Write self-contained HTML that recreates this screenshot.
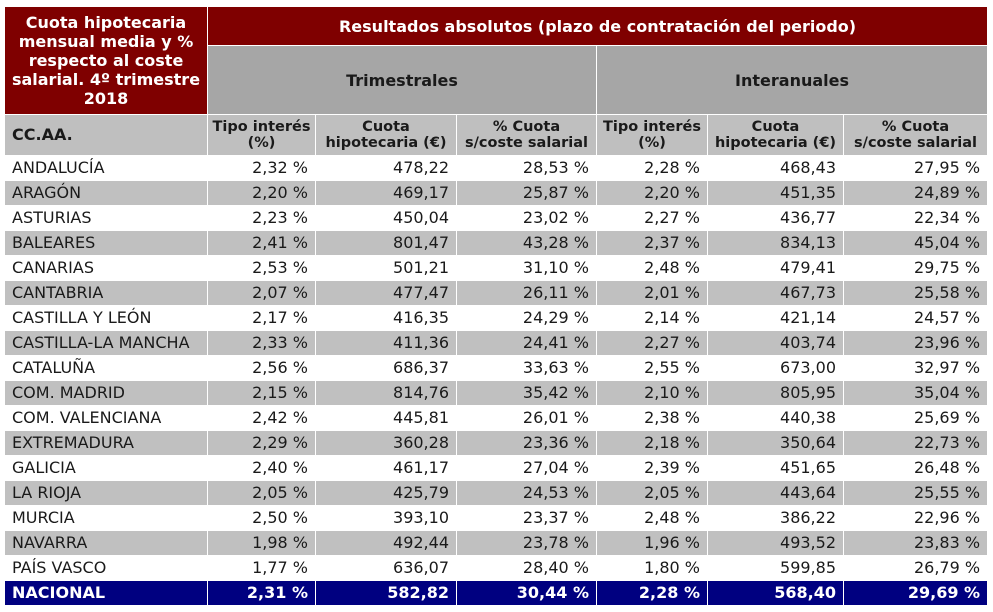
<!DOCTYPE html>
<html><head><meta charset="utf-8"><style>
body{margin:0;background:#fff;width:993px;height:612px;overflow:hidden;position:relative}
table{position:absolute;left:4px;top:6px;border-collapse:collapse;table-layout:fixed;width:983px;font-family:"DejaVu Sans","Liberation Sans",sans-serif;font-size:16px;color:#1a1a1a}
td{border:1px solid #fff;padding:0 7px;white-space:nowrap;overflow:hidden}
.red{background:#7f0000;color:#fff;font-weight:bold;text-align:center}
.g1{background:#a6a6a6;font-weight:bold;text-align:center}
.g2{background:#bfbfbf;font-weight:bold;text-align:center;font-size:14.5px;line-height:16px;padding:0 3px}
tr.d td{height:24px;text-align:right;line-height:24px}
tr.d td:first-child{text-align:left}
tr.alt td{background:#c0c0c0}
tr.nat td{background:#000080;color:#fff;font-weight:bold}
</style></head><body>
<table>
<colgroup><col style="width:203px"><col style="width:108px"><col style="width:141px"><col style="width:140px"><col style="width:111px"><col style="width:136px"><col style="width:144px"></colgroup>
<tr style="height:39px"><td class="red" rowspan="2" style="line-height:19px;white-space:normal;padding:0 2px">Cuota hipotecaria mensual media y % respecto al coste salarial. 4º trimestre 2018</td><td class="red" colspan="6">Resultados absolutos (plazo de contratación del periodo)</td></tr>
<tr style="height:69px"><td class="g1" colspan="3">Trimestrales</td><td class="g1" colspan="3">Interanuales</td></tr>
<tr style="height:41px"><td class="g2" style="text-align:left;font-size:16px;padding-left:7px">CC.AA.</td>
<td class="g2">Tipo interés<br>(%)</td><td class="g2">Cuota<br>hipotecaria (€)</td><td class="g2">% Cuota<br>s/coste salarial</td>
<td class="g2">Tipo interés<br>(%)</td><td class="g2">Cuota<br>hipotecaria (€)</td><td class="g2">% Cuota<br>s/coste salarial</td></tr>
<tr class="d"><td>ANDALUCÍA</td><td>2,32 %</td><td>478,22</td><td>28,53 %</td><td>2,28 %</td><td>468,43</td><td>27,95 %</td></tr>
<tr class="d alt"><td>ARAGÓN</td><td>2,20 %</td><td>469,17</td><td>25,87 %</td><td>2,20 %</td><td>451,35</td><td>24,89 %</td></tr>
<tr class="d"><td>ASTURIAS</td><td>2,23 %</td><td>450,04</td><td>23,02 %</td><td>2,27 %</td><td>436,77</td><td>22,34 %</td></tr>
<tr class="d alt"><td>BALEARES</td><td>2,41 %</td><td>801,47</td><td>43,28 %</td><td>2,37 %</td><td>834,13</td><td>45,04 %</td></tr>
<tr class="d"><td>CANARIAS</td><td>2,53 %</td><td>501,21</td><td>31,10 %</td><td>2,48 %</td><td>479,41</td><td>29,75 %</td></tr>
<tr class="d alt"><td>CANTABRIA</td><td>2,07 %</td><td>477,47</td><td>26,11 %</td><td>2,01 %</td><td>467,73</td><td>25,58 %</td></tr>
<tr class="d"><td>CASTILLA Y LEÓN</td><td>2,17 %</td><td>416,35</td><td>24,29 %</td><td>2,14 %</td><td>421,14</td><td>24,57 %</td></tr>
<tr class="d alt"><td>CASTILLA-LA MANCHA</td><td>2,33 %</td><td>411,36</td><td>24,41 %</td><td>2,27 %</td><td>403,74</td><td>23,96 %</td></tr>
<tr class="d"><td>CATALUÑA</td><td>2,56 %</td><td>686,37</td><td>33,63 %</td><td>2,55 %</td><td>673,00</td><td>32,97 %</td></tr>
<tr class="d alt"><td>COM. MADRID</td><td>2,15 %</td><td>814,76</td><td>35,42 %</td><td>2,10 %</td><td>805,95</td><td>35,04 %</td></tr>
<tr class="d"><td>COM. VALENCIANA</td><td>2,42 %</td><td>445,81</td><td>26,01 %</td><td>2,38 %</td><td>440,38</td><td>25,69 %</td></tr>
<tr class="d alt"><td>EXTREMADURA</td><td>2,29 %</td><td>360,28</td><td>23,36 %</td><td>2,18 %</td><td>350,64</td><td>22,73 %</td></tr>
<tr class="d"><td>GALICIA</td><td>2,40 %</td><td>461,17</td><td>27,04 %</td><td>2,39 %</td><td>451,65</td><td>26,48 %</td></tr>
<tr class="d alt"><td>LA RIOJA</td><td>2,05 %</td><td>425,79</td><td>24,53 %</td><td>2,05 %</td><td>443,64</td><td>25,55 %</td></tr>
<tr class="d"><td>MURCIA</td><td>2,50 %</td><td>393,10</td><td>23,37 %</td><td>2,48 %</td><td>386,22</td><td>22,96 %</td></tr>
<tr class="d alt"><td>NAVARRA</td><td>1,98 %</td><td>492,44</td><td>23,78 %</td><td>1,96 %</td><td>493,52</td><td>23,83 %</td></tr>
<tr class="d"><td>PAÍS VASCO</td><td>1,77 %</td><td>636,07</td><td>28,40 %</td><td>1,80 %</td><td>599,85</td><td>26,79 %</td></tr>
<tr class="d nat"><td>NACIONAL</td><td>2,31 %</td><td>582,82</td><td>30,44 %</td><td>2,28 %</td><td>568,40</td><td>29,69 %</td></tr>
</table>
</body></html>
